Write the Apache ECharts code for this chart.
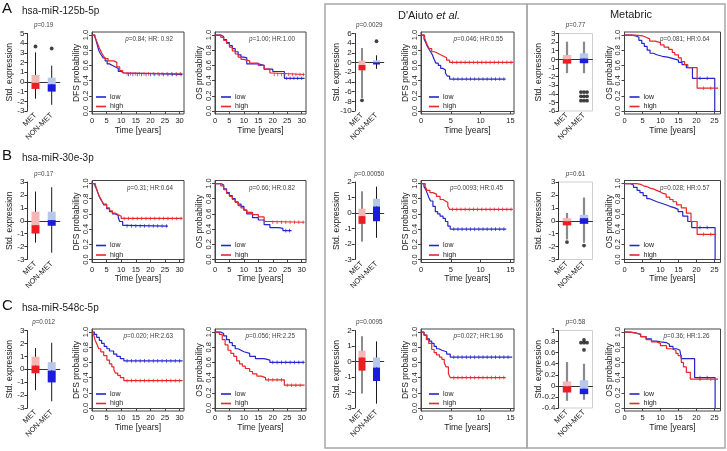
<!DOCTYPE html>
<html><head><meta charset="utf-8">
<script src="https://cdn.jsdelivr.net/npm/echarts@6/dist/echarts.min.js"></script>
<style>html,body{margin:0;padding:0;background:#fff}#c{width:727px;height:451px}</style>
</head><body><div id="c"></div>
<script>
// ================= DATA =================
const groups = ['MET', 'NON-MET'];
// box statistics per group: [lower whisker, Q1, median, Q3, upper whisker]
const boxA1 = [[-1.74, -0.72, -0.1, 0.72, 3.05], [-2.36, -1.0, -0.24, 0.44, 1.68]];
const outA1 = [[1, 3.66], [2, 3.45]];
const boxA2 = [[-7.3, -1.6, -0.5, 0.4, 3.0], [-1.3, -0.4, 0.0, 0.45, 1.5]];
const outA2 = [[1, -7.8], [2, 4.4]];
const boxA3 = [[-1.6, -0.5, 0.0, 0.5, 2.05], [-1.6, -0.45, 0.1, 0.7, 2.05]];
const outA3 = [[1.82, -3.8], [2, -3.8], [2.18, -3.8], [1.82, -4.3], [2, -4.3], [2.18, -4.3], [1.82, -4.8], [2, -4.8], [2.18, -4.8]];

const boxB1 = [[-1.69, -0.99, -0.34, 0.7, 2.26], [-2.47, -0.39, 0.05, 0.7, 2.6]];
const outB1 = [];
const boxB2 = [[-1.85, -0.7, -0.2, 0.28, 1.4], [-1.6, -0.53, 0.42, 0.92, 1.7]];
const outB2 = [];
const boxB3 = [[-1.45, -0.36, -0.05, 0.2, 0.6], [-1.7, -0.24, 0.2, 0.46, 1.8]];
const outB3 = [[1, -1.65], [2, -1.92]];

const boxC1 = [[-1.62, -0.31, 0.29, 0.97, 1.64], [-2.48, -1.02, -0.1, 0.55, 2.05]];
const outC1 = [];
const boxC2 = [[-2.07, -0.59, 0.26, 0.7, 1.63], [-2.72, -1.26, -0.39, 0.26, 1.3]];
const outC2 = [];
const boxC3 = [[-0.27, -0.12, -0.01, 0.08, 0.43], [-0.25, -0.15, -0.05, 0.1, 0.4]];
const outC3 = [[2, 0.83], [1.82, 0.78], [2, 0.78], [2.18, 0.78], [2, 0.65]];

// Kaplan-Meier step points: [time (years), survival probability]
const kmA_dfs_low = [[0,1],[0.8,0.98],[1.3,0.94],[1.8,0.87],[2.3,0.8],[2.8,0.76],[3.3,0.73],[3.8,0.7],[4.5,0.66],[5.2,0.62],[6,0.6],[7,0.58],[8,0.56],[9,0.52],[10,0.5],[11,0.48],[31,0.48]];
const kmA_dfs_high = [[0,1],[1,0.97],[1.5,0.93],[2,0.88],[2.5,0.83],[3,0.79],[3.5,0.75],[4,0.72],[4.5,0.69],[5.5,0.66],[7.5,0.64],[8.5,0.58],[9.5,0.53],[10.5,0.5],[11.5,0.49],[31,0.49]];
const kmA_os_low = [[0,1],[2,0.98],[3,0.94],[4,0.9],[5,0.86],[6,0.82],[7,0.78],[8,0.74],[9,0.71],[10,0.7],[11,0.62],[15,0.6],[17,0.55],[20,0.52],[24,0.43],[31,0.43]];
const kmA_os_high = [[0,1],[2,0.97],[3,0.93],[4,0.89],[5,0.84],[6,0.79],[7,0.75],[8,0.71],[9,0.68],[10,0.66],[12,0.63],[15,0.6],[17,0.55],[19,0.5],[20,0.48],[31,0.48]];
const kmA_da_low = [[0,1],[0.5,0.95],[0.8,0.9],[1,0.86],[1.3,0.82],[1.6,0.78],[1.9,0.74],[2.2,0.68],[2.5,0.63],[2.9,0.6],[3.3,0.56],[3.7,0.54],[4.1,0.5],[4.4,0.46],[4.8,0.42],[14.2,0.42]];
const kmA_da_high = [[0,1],[0.6,0.96],[0.9,0.9],[1.1,0.86],[1.4,0.82],[1.8,0.78],[2.3,0.76],[2.8,0.74],[3.3,0.72],[3.8,0.7],[4.3,0.67],[4.8,0.64],[15.5,0.64]];
const kmA_mb_low = [[0,1],[2,0.99],[3,0.97],[4,0.93],[4.8,0.89],[5.5,0.85],[6.3,0.8],[7.1,0.76],[8,0.74],[9,0.72],[10.5,0.71],[12,0.69],[13.5,0.67],[15,0.64],[16,0.61],[17.2,0.57],[18.9,0.43],[25.1,0]];
const kmA_mb_high = [[0,1],[3,0.99],[5,0.97],[6,0.95],[7,0.92],[8.5,0.9],[10,0.87],[11,0.84],[12.3,0.81],[13.3,0.77],[14,0.74],[15,0.7],[15.8,0.65],[16.7,0.61],[17.6,0.57],[20.2,0.3],[26,0.3]];

const kmB_dfs_low = [[0,1],[1,0.97],[1.5,0.93],[2,0.88],[2.5,0.83],[3,0.79],[3.5,0.76],[4,0.72],[5,0.67],[6,0.63],[7,0.6],[8,0.58],[9,0.55],[9.5,0.5],[10.5,0.45],[11.5,0.44],[26,0.44]];
const kmB_dfs_high = [[0,1],[1,0.98],[1.5,0.94],[2,0.88],[2.5,0.83],[3,0.8],[3.5,0.76],[4,0.73],[5,0.68],[6,0.64],[7,0.61],[8,0.59],[9,0.57],[10,0.54],[31,0.54]];
const kmB_os_low = [[0,1],[2,0.98],[3,0.93],[4,0.88],[5,0.84],[6,0.8],[7,0.76],[8,0.73],[9,0.7],[10,0.65],[11,0.6],[13,0.55],[15,0.52],[17,0.46],[19,0.42],[22,0.41],[23.5,0.38],[26.5,0.38]];
const kmB_os_high = [[0,1],[2,0.97],[3,0.92],[4,0.87],[5,0.83],[6,0.79],[7,0.75],[8,0.71],[9,0.68],[10,0.65],[11,0.62],[13,0.59],[15,0.56],[17,0.5],[19,0.49],[31,0.49]];
const kmB_da_low = [[0,1],[0.5,0.96],[0.8,0.92],[1,0.88],[1.3,0.82],[1.6,0.77],[2,0.7],[2.4,0.63],[2.8,0.6],[3.2,0.57],[3.7,0.54],[4.1,0.5],[4.5,0.44],[4.9,0.4],[14.3,0.4]];
const kmB_da_high = [[0,1],[0.7,0.96],[1,0.91],[1.5,0.88],[2,0.86],[2.6,0.83],[3.2,0.79],[3.7,0.77],[4.1,0.75],[4.5,0.7],[4.8,0.66],[15.4,0.66]];
const kmB_mb_low = [[0,1],[1.5,0.98],[2.5,0.95],[3.5,0.91],[4.3,0.88],[5.2,0.84],[6.2,0.8],[7,0.78],[8,0.76],[9,0.74],[10.3,0.72],[11.5,0.7],[12.6,0.68],[14,0.66],[14.9,0.63],[16.2,0.57],[17.6,0.5],[18.7,0.42],[25.2,0]];
const kmB_mb_high = [[0,1],[3.4,0.99],[4.5,0.97],[5.3,0.96],[6.2,0.94],[7.1,0.93],[8,0.91],[8.9,0.89],[10,0.87],[10.7,0.86],[11.6,0.82],[12.6,0.79],[13.5,0.76],[14.5,0.72],[15.8,0.68],[17.2,0.61],[18.5,0.5],[20.2,0.33],[25.5,0.33]];

const kmC_dfs_low = [[0,1],[0.8,0.97],[1.6,0.93],[2.5,0.89],[3.3,0.85],[4.2,0.81],[5.1,0.78],[6,0.75],[7.4,0.71],[8.5,0.68],[9.7,0.65],[10.9,0.62],[31,0.62]];
const kmC_dfs_high = [[0,1],[0.6,0.96],[1.1,0.89],[1.7,0.84],[2.3,0.78],[3,0.74],[4,0.69],[5.1,0.63],[6,0.58],[6.8,0.54],[7.5,0.5],[8,0.46],[8.8,0.43],[9.7,0.4],[10.9,0.36],[31,0.36]];
const kmC_os_low = [[0,1],[2,0.98],[3,0.95],[4,0.9],[5,0.86],[6,0.82],[7,0.78],[8,0.76],[9,0.74],[10,0.72],[12,0.68],[14,0.65],[17,0.63],[19,0.6],[31,0.6]];
const kmC_os_high = [[0,1],[1.5,0.97],[2.5,0.9],[3.5,0.83],[4.5,0.76],[5.5,0.72],[6.5,0.68],[7.5,0.62],[8.5,0.58],[9.5,0.55],[10.5,0.52],[12,0.48],[13,0.45],[14.5,0.42],[16,0.4],[17.5,0.37],[24,0.3],[31,0.3]];
const kmC_da_low = [[0,1],[0.5,0.96],[1,0.91],[1.4,0.88],[1.8,0.85],[2.2,0.81],[2.6,0.78],[3,0.76],[3.5,0.74],[4.3,0.71],[4.9,0.67],[15.3,0.67]];
const kmC_da_high = [[0,1],[0.5,0.96],[0.9,0.9],[1.3,0.85],[1.8,0.77],[2.2,0.73],[2.6,0.7],[3.1,0.67],[3.5,0.64],[3.9,0.6],[4.2,0.54],[4.6,0.45],[4.9,0.4],[14.2,0.4]];
const kmC_mb_low = [[0,1],[1.5,0.99],[3,0.97],[4.5,0.94],[6,0.91],[7.5,0.88],[8.9,0.87],[10,0.86],[11.7,0.84],[12.5,0.81],[13.5,0.78],[14.5,0.76],[15.4,0.74],[15.8,0.65],[19.5,0.4],[25.2,0]];
const kmC_mb_high = [[0,1],[1.5,0.99],[3,0.97],[4.5,0.94],[6,0.9],[7.5,0.87],[8.9,0.85],[10,0.82],[11.7,0.78],[13,0.76],[14.3,0.72],[14.9,0.69],[15.8,0.6],[16.4,0.54],[17.2,0.47],[18.3,0.38],[26,0.38]];

// censoring marks: [time, survival]
const cA_dfs_low = [[12.5,0.48],[14,0.48],[15.5,0.48],[17,0.48],[18.5,0.48],[20,0.48],[21.5,0.48],[23,0.48],[24.5,0.48],[26,0.48],[27.5,0.48],[29,0.48],[30.5,0.48]];
const cA_dfs_high = [[12,0.49],[13.2,0.49],[14.8,0.49],[16.2,0.49],[17.8,0.49],[19.3,0.49],[21,0.49],[22.6,0.49],[24,0.49],[25.7,0.49],[27.3,0.49],[28.8,0.49],[30.2,0.49]];
const cA_os_low = [[24.8,0.43],[26,0.43],[27.3,0.43],[28.6,0.43],[30,0.43]];
const cA_os_high = [[20.5,0.48],[21.7,0.48],[23,0.48],[24.2,0.48],[25.5,0.48],[26.8,0.48],[28,0.48],[29.4,0.48],[30.6,0.48]];
const cA_da_low = [[5.5,0.42],[6.2,0.42],[6.9,0.42],[7.6,0.42],[8.3,0.42],[9,0.42],[9.7,0.42],[10.4,0.42],[11.1,0.42],[11.8,0.42],[12.5,0.42],[13.2,0.42],[13.9,0.42]];
const cA_da_high = [[5.3,0.64],[6,0.64],[6.7,0.64],[7.4,0.64],[8.1,0.64],[8.8,0.64],[9.5,0.64],[10.2,0.64],[10.9,0.64],[11.6,0.64],[12.3,0.64],[13,0.64],[13.7,0.64],[14.4,0.64],[15.1,0.64]];
const cA_mb_low = [[21,0.43],[23,0.43]];
const cA_mb_high = [[22,0.3],[24,0.3]];

const cB_dfs_low = [[12,0.44],[13.5,0.44],[15,0.44],[16.5,0.44],[18,0.44],[19.5,0.44],[21,0.44],[22.5,0.44],[24,0.44],[25.5,0.44]];
const cB_dfs_high = [[11,0.54],[12.5,0.54],[14,0.54],[15.5,0.54],[17,0.54],[18.5,0.54],[20,0.54],[21.5,0.54],[23,0.54],[24.5,0.54],[26,0.54],[27.5,0.54],[29,0.54],[30.5,0.54]];
const cB_os_low = [[24.5,0.38],[25.8,0.38]];
const cB_os_high = [[20,0.49],[21.5,0.49],[23,0.49],[24.5,0.49],[26,0.49],[27.5,0.49],[29,0.49],[30.5,0.49]];
const cB_da_low = [[5.5,0.4],[6.2,0.4],[6.9,0.4],[7.6,0.4],[8.3,0.4],[9,0.4],[9.7,0.4],[10.4,0.4],[11.1,0.4],[11.8,0.4],[12.5,0.4],[13.2,0.4],[13.9,0.4]];
const cB_da_high = [[5.3,0.66],[6,0.66],[6.7,0.66],[7.4,0.66],[8.1,0.66],[8.8,0.66],[9.5,0.66],[10.2,0.66],[10.9,0.66],[11.6,0.66],[12.3,0.66],[13,0.66],[13.7,0.66],[14.4,0.66],[15.1,0.66]];
const cB_mb_low = [[21,0.42],[23,0.42]];
const cB_mb_high = [[22,0.33],[24,0.33]];

const cC_dfs_low = [[12,0.62],[13.5,0.62],[15,0.62],[16.5,0.62],[18,0.62],[19.5,0.62],[21,0.62],[22.5,0.62],[24,0.62],[25.5,0.62],[27,0.62],[28.5,0.62],[30,0.62]];
const cC_dfs_high = [[12,0.36],[13.5,0.36],[15,0.36],[16.5,0.36],[18,0.36],[19.5,0.36],[21,0.36],[22.5,0.36],[24,0.36],[25.5,0.36],[27,0.36],[28.5,0.36],[30,0.36]];
const cC_os_low = [[20,0.6],[21.5,0.6],[23,0.6],[24.5,0.6],[26,0.6],[27.5,0.6],[29,0.6],[30.5,0.6]];
const cC_os_high = [[18.5,0.37],[20,0.37],[21.5,0.37],[23,0.37],[25,0.3],[26.5,0.3],[28,0.3],[29.5,0.3]];
const cC_da_low = [[5.5,0.67],[6.2,0.67],[6.9,0.67],[7.6,0.67],[8.3,0.67],[9,0.67],[9.7,0.67],[10.4,0.67],[11.1,0.67],[11.8,0.67],[12.5,0.67],[13.2,0.67],[13.9,0.67],[14.6,0.67]];
const cC_da_high = [[5.5,0.4],[6.2,0.4],[6.9,0.4],[7.6,0.4],[8.3,0.4],[9,0.4],[9.7,0.4],[10.4,0.4],[11.1,0.4],[11.8,0.4],[12.5,0.4],[13.2,0.4],[13.9,0.4]];
const cC_mb_low = [[21,0.4],[23,0.4]];
const cC_mb_high = [[21,0.38],[24,0.38]];

// tick values
const ticksLong = [0, 5, 10, 15, 20, 25, 30];
const ticksDA = [0, 5, 10, 15];
const ticksMB = [0, 5, 10, 15, 20, 25];
const ticksProb = [0, 0.2, 0.4, 0.6, 0.8, 1.0];

// texts
const rowLetters = ['A', 'B', 'C'];
const rowGenes = ['hsa-miR-125b-5p', 'hsa-miR-30e-3p', 'hsa-miR-548c-5p'];
const pBox = [['0.19', '0.0029', '0.77'], ['0.17', '0.00050', '0.61'], ['0.012', '0.0095', '0.58']];
const pKM = [
  ['0.84; HR: 0.92', '1.00; HR:1.00', '0.046; HR:0.55', '0.081; HR:0.64'],
  ['0.31; HR:0.64', '0.66; HR:0.82', '0.0093; HR:0.45', '0.028; HR:0.57'],
  ['0.020; HR:2.63', '0.056; HR:2.25', '0.027; HR:1.96', '0.36; HR:1.26']
];

// ================= STYLE / LAYOUT =================
const FONT = '"Liberation Sans", Arial, sans-serif';
const RED = '#ee1d23', PINK = '#f5b6b6', BLUE = '#1c1cdc', LBLUE = '#b7c8ea';
const KM_BLUE = '#2525cc', KM_RED = '#e8262b';
const rowTop = [32, 180.5, 329];
const rowLetterY = [9, 156, 306];

const option = {
  animation: false, backgroundColor: '#fff',
  textStyle: { fontFamily: FONT },
  grid: [], xAxis: [], yAxis: [], series: [], legend: [], graphic: []
};

function txt(x, y, text, size, opts) {
  option.graphic.push(Object.assign({
    type: 'text', x: x, y: y, z: 100,
    style: Object.assign({ text: text, fontSize: size, fontFamily: FONT, fill: '#222',
      align: 'left', verticalAlign: 'middle',
      rich: { i: { fontStyle: 'italic', fontSize: size, fontFamily: FONT, fill: '#444' } } }, opts || {})
  }));
}

function addBox(r, left, width, yMin, yMax, yInt, stats, outs, pText, metabric, nameGap, boxW) {
  const T = rowTop[r];
  const gi = option.grid.length;
  const top = T + 1.5, height = 77.5;
  option.grid.push({ left: left, top: top, width: width, height: height, show: !!metabric,
    borderColor: '#cfcfcf', borderWidth: 1, outerBoundsMode: 'none', containLabel: false });
  option.xAxis.push({ type: 'value', gridIndex: gi, min: 0.5, max: 2.5,
    axisLine: { show: true, lineStyle: { color: '#333', width: 1 } },
    axisTick: { show: true, customValues: [1, 2], length: 3, lineStyle: { color: '#333' } },
    axisLabel: { customValues: [1, 2], formatter: v => groups[Math.round(v) - 1], rotate: 45,
      fontSize: 7.5, color: '#222', margin: 3, fontFamily: FONT },
    splitLine: { show: false } });
  option.yAxis.push({ type: 'value', gridIndex: gi, min: yMin, max: yMax, interval: yInt,
    axisLine: { show: true, lineStyle: { color: '#333', width: 1 } },
    axisTick: { show: true, length: 3, lineStyle: { color: '#333' } },
    axisLabel: { fontSize: 8, color: '#222', margin: 3, fontFamily: FONT },
    splitLine: { show: false },
    name: 'Std. expression', nameLocation: 'middle', nameGap: nameGap, nameMoveOverlap: false,
    nameTextStyle: { fontSize: 8.5, color: '#222', fontFamily: FONT } });
  const wColor = metabric ? '#8a8a8a' : '#1a1a1a';
  const wWidth = metabric ? 2.2 : 1;
  option.series.push({ type: 'custom', xAxisIndex: gi, yAxisIndex: gi, z: 3,
    data: stats.map((s, i) => [i + 1].concat(s)),
    encode: { x: 0, y: [1, 2, 3, 4, 5] },
    renderItem: function (params, api) {
      const i = params.dataIndex, x = api.value(0);
      const c = v => api.coord([x, v]);
      const lo = c(api.value(1)), q1 = c(api.value(2)), md = c(api.value(3)), q3 = c(api.value(4)), hi = c(api.value(5));
      const hw = boxW / 2;
      return { type: 'group', children: [
        { type: 'line', shape: { x1: lo[0], y1: lo[1], x2: hi[0], y2: hi[1] }, style: { stroke: wColor, lineWidth: wWidth } },
        { type: 'rect', shape: { x: q3[0] - hw, y: q3[1], width: 2 * hw, height: md[1] - q3[1] }, style: { fill: i === 0 ? PINK : LBLUE } },
        { type: 'rect', shape: { x: md[0] - hw, y: md[1], width: 2 * hw, height: q1[1] - md[1] }, style: { fill: i === 0 ? RED : BLUE } }
      ] };
    } });
  if (outs.length) option.series.push({ type: 'scatter', xAxisIndex: gi, yAxisIndex: gi, z: 4,
    data: outs, symbol: 'circle', symbolSize: 3.8, itemStyle: { color: '#111' }, silent: true });
  txt(left + width / 2, T - 6.5, '{i|p}=' + pText, 6.3, { align: 'center', fill: '#444' });
}

function addKM(r, left, width, xMax, xTicks, low, high, cLow, cHigh, yName, pText, legDx) {
  const T = rowTop[r];
  const gi = option.grid.length;
  option.grid.push({ left: left, top: T, width: width, height: 82, show: true,
    borderColor: '#444', borderWidth: 1, outerBoundsMode: 'none', containLabel: false });
  option.xAxis.push({ type: 'value', gridIndex: gi, min: 0, max: xMax,
    axisLine: { show: true, lineStyle: { color: '#444' } },
    axisTick: { show: true, customValues: xTicks, length: 3, lineStyle: { color: '#444' } },
    axisLabel: { customValues: xTicks, fontSize: 7.5, color: '#222', margin: 3, fontFamily: FONT },
    splitLine: { show: false },
    name: 'Time [years]', nameLocation: 'middle', nameGap: 12, nameMoveOverlap: false,
    nameTextStyle: { fontSize: 8.5, color: '#222', fontFamily: FONT } });
  option.yAxis.push({ type: 'value', gridIndex: gi, min: -0.04, max: 1.04,
    axisLine: { show: true, lineStyle: { color: '#444' } },
    axisTick: { show: true, customValues: ticksProb, length: 3, lineStyle: { color: '#444' } },
    axisLabel: { customValues: ticksProb, formatter: v => v.toFixed(1), rotate: 90,
      fontSize: 7.5, color: '#222', margin: 2.5, fontFamily: FONT },
    splitLine: { show: false },
    name: yName, nameLocation: 'middle', nameGap: 10.5, nameMoveOverlap: false,
    nameTextStyle: { fontSize: 8.5, color: '#222', fontFamily: FONT } });
  option.series.push({ type: 'line', name: 'low', xAxisIndex: gi, yAxisIndex: gi, step: 'end', z: 2,
    data: low, symbol: 'none', itemStyle: { color: KM_BLUE }, lineStyle: { color: KM_BLUE, width: 1.2 } });
  option.series.push({ type: 'line', name: 'high', xAxisIndex: gi, yAxisIndex: gi, step: 'end', z: 3,
    data: high, symbol: 'none', itemStyle: { color: KM_RED }, lineStyle: { color: KM_RED, width: 1.2 } });
  option.series.push({ type: 'scatter', name: 'low censored', xAxisIndex: gi, yAxisIndex: gi, z: 2, silent: true,
    data: cLow, symbol: 'rect', symbolSize: [0.9, 3.6], itemStyle: { color: KM_BLUE } });
  option.series.push({ type: 'scatter', name: 'high censored', xAxisIndex: gi, yAxisIndex: gi, z: 3, silent: true,
    data: cHigh, symbol: 'rect', symbolSize: [0.9, 3.6], itemStyle: { color: KM_RED } });
  option.legend.push({ data: ['low', 'high'], left: left + legDx, top: T + 61.5, orient: 'vertical',
    icon: 'rect', itemWidth: 10, itemHeight: 1.6, itemGap: 2.5, padding: 0, selectedMode: false,
    textStyle: { fontSize: 7, color: '#222', fontFamily: FONT, padding: [0, 0, 0, -1] } });
  txt(left + width - 11, T + 7.5, '{i|p}=' + pText, 6.3, { align: 'right', fill: '#444' });
}

const boxes = [[boxA1, boxA2, boxA3], [boxB1, boxB2, boxB3], [boxC1, boxC2, boxC3]];
const outsAll = [[outA1, outA2, outA3], [outB1, outB2, outB3], [outC1, outC2, outC3]];
const yRanges = [
  [[-3, 5, 1], [-10, 6, 2], [-6, 3, 1]],
  [[-3, 3, 1], [-3, 2, 1], [-3, 3, 1]],
  [[-3, 3, 1], [-3, 2, 1], [-0.4, 1, 0.2]]
];
const kms = [
  [kmA_dfs_low, kmA_dfs_high, kmA_os_low, kmA_os_high, kmA_da_low, kmA_da_high, kmA_mb_low, kmA_mb_high],
  [kmB_dfs_low, kmB_dfs_high, kmB_os_low, kmB_os_high, kmB_da_low, kmB_da_high, kmB_mb_low, kmB_mb_high],
  [kmC_dfs_low, kmC_dfs_high, kmC_os_low, kmC_os_high, kmC_da_low, kmC_da_high, kmC_mb_low, kmC_mb_high]
];
const cens = [
  [cA_dfs_low, cA_dfs_high, cA_os_low, cA_os_high, cA_da_low, cA_da_high, cA_mb_low, cA_mb_high],
  [cB_dfs_low, cB_dfs_high, cB_os_low, cB_os_high, cB_da_low, cB_da_high, cB_mb_low, cB_mb_high],
  [cC_dfs_low, cC_dfs_high, cC_os_low, cC_os_high, cC_da_low, cC_da_high, cC_mb_low, cC_mb_high]
];

// section frames
option.graphic.push({ type: 'rect', z: 0, shape: { x: 325, y: 4, width: 202, height: 444 }, style: { fill: 'none', stroke: '#a8a8a8', lineWidth: 1.5 } });
option.graphic.push({ type: 'rect', z: 0, shape: { x: 527, y: 4, width: 198, height: 444 }, style: { fill: 'none', stroke: '#a8a8a8', lineWidth: 1.5 } });
txt(429, 16, "D'Aiuto {e|et al.}", 11, { align: 'center', fill: '#222',
  rich: { e: { fontStyle: 'italic', fontSize: 11, fontFamily: FONT, fill: '#222' } } });
txt(631, 15, 'Metabric', 11, { align: 'center' });

for (let r = 0; r < 3; r++) {
  txt(2, rowLetterY[r], rowLetters[r], 15, { fill: '#111' });
  txt(22, rowLetterY[r] + 2, rowGenes[r], 10, { fill: '#222' });
  const yr = yRanges[r], k = kms[r], c = cens[r];
  addBox(r, 27.4, 32.4, yr[0][0], yr[0][1], yr[0][2], boxes[r][0], outsAll[r][0], pBox[r][0], false, 13, 8);
  addKM(r, 92, 92, 31.5, ticksLong, k[0], k[1], c[0], c[1], 'DFS probability', pKM[r][0], 4);
  addKM(r, 215, 91, 31.5, ticksLong, k[2], k[3], c[2], c[3], 'OS probability', pKM[r][1], 6);
  addBox(r, 354.75, 29, yr[1][0], yr[1][1], yr[1][2], boxes[r][1], outsAll[r][1], pBox[r][1], false, 13.5, 7);
  addKM(r, 421, 93, 15.6, ticksDA, k[4], k[5], c[4], c[5], 'DFS probability', pKM[r][2], 8);
  addBox(r, 558.5, 34, yr[2][0], yr[2][1], yr[2][2], boxes[r][2], outsAll[r][2], pBox[r][2], true, 15, 8.5);
  addKM(r, 624.5, 96, 26.7, ticksMB, k[6], k[7], c[6], c[7], 'OS probability', pKM[r][3], 5);
}

const chart = echarts.init(document.getElementById('c'), null, { renderer: 'canvas' });
chart.setOption(option);
</script>
</body></html>
